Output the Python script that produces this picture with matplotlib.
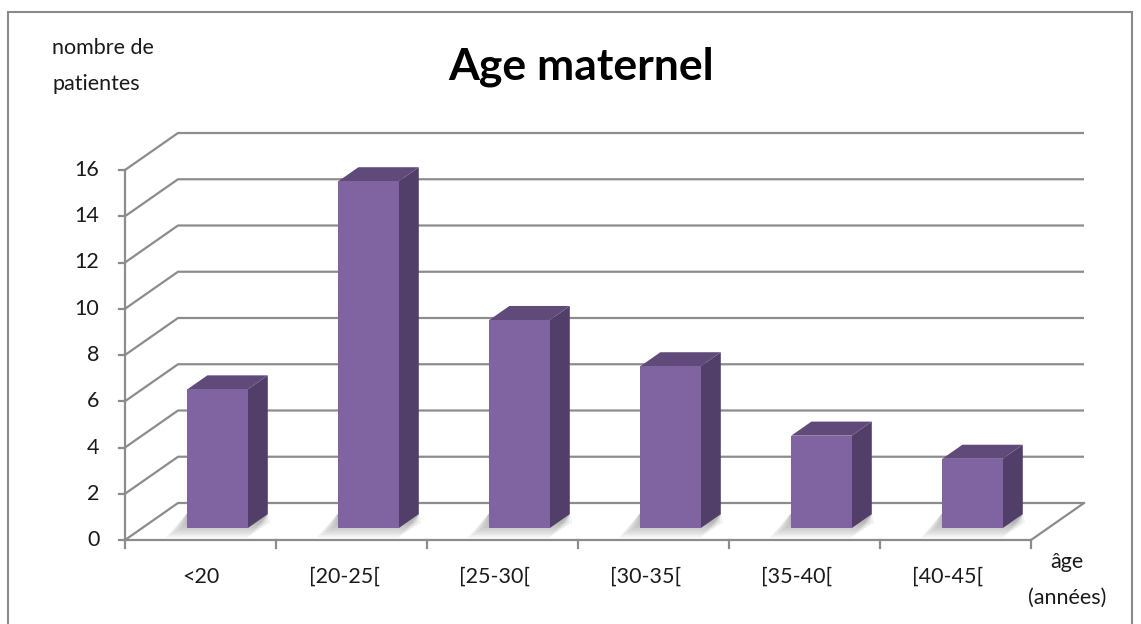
import numpy as np
import matplotlib.pyplot as plt
from matplotlib.patches import Polygon, Rectangle

categories = ['<20', '[20-25[', '[25-30[', '[30-35[', '[35-40[', '[40-45[']
patientes = [6, 15, 9, 7, 4, 3]
yticks = [0, 2, 4, 6, 8, 10, 12, 14, 16]

W, H = 1141, 624
plt.rcParams['font.family'] = ['Lato', 'DejaVu Sans']

fig = plt.figure(figsize=(W / 100, H / 100), dpi=100)
fig.patch.set_facecolor('white')

# front plane of the pseudo-3D box, in pixels
x0, x1, yb, yt = 125, 1031, 540, 170
ax = fig.add_axes([x0 / W, 1 - yb / H, (x1 - x0) / W, (yb - yt) / H])
ax.set_xlim(0, len(categories))
ax.set_ylim(0, 16)
ax.axis('off')

# depth offset in data units (53 px right, 37 px up)
dx = 53 / ((x1 - x0) / len(categories))
dy = 37 / ((yb - yt) / 16)
grid_c = '#8c8c8c'
txt_c = '#1a1a1a'
n = len(categories)

for v in yticks:
    ax.plot([0, dx, n + dx], [v, v + dy, v + dy], color=grid_c, lw=1.6,
            clip_on=False, solid_capstyle='butt', zorder=1)
# floor
ax.plot([0, n, n + dx], [0, 0, dy], color=grid_c, lw=1.6, clip_on=False, zorder=1)
# front y axis + ticks
ax.plot([0, 0], [0, 16], color=grid_c, lw=1.6, clip_on=False, zorder=1)
for v in yticks:
    ax.plot([-0.04, 0], [v, v], color=grid_c, lw=1.6, clip_on=False)
    ax.text(-0.17, v, str(v), ha='right', va='center', fontsize=15.5, color=txt_c)
for i in range(n + 1):
    ax.plot([i, i], [0, -0.35], color=grid_c, lw=1.6, clip_on=False)
for i, c in enumerate(categories):
    shift = -0.05 if c.startswith('[') else 0
    ax.text(i + 0.5 + shift, -1.6, c, ha='center', va='center', fontsize=15.5,
            color=txt_c)

# bars
f0, f1 = 0.32, 0.70
hw = 0.2
front_c, side_c, top_c = '#8064a2', '#523f69', '#5f4a7a'
for i, v in enumerate(patientes):
    cx = i + 0.5
    xa, xb = cx - hw + f0 * dx, cx + hw + f0 * dx
    ya = f0 * dy
    ddx, ddy = (f1 - f0) * dx, (f1 - f0) * dy
    # soft shadow on the floor
    for k in range(7):
        s = 0.025 * k
        shadow = Polygon([(xa - 0.14 + s, ya - 0.4 + s * 4), (xb + s, ya - 0.4 + s * 4),
                          (xb + ddx, ya + ddy), (xa + ddx - 0.14, ya + ddy)],
                         closed=True, facecolor='#6f6f6f', edgecolor='none',
                         alpha=0.09, clip_on=False, zorder=2)
        ax.add_patch(shadow)
    ax.add_patch(Rectangle((xa, ya), xb - xa, v, facecolor=front_c,
                           edgecolor='none', clip_on=False, zorder=4))
    ax.add_patch(Polygon([(xb, ya), (xb + ddx, ya + ddy), (xb + ddx, ya + ddy + v),
                          (xb, ya + v)], closed=True, facecolor=side_c,
                         edgecolor='none', clip_on=False, zorder=3))
    ax.add_patch(Polygon([(xa, ya + v), (xb, ya + v), (xb + ddx, ya + v + ddy),
                          (xa + ddx, ya + v + ddy)], closed=True, facecolor=top_c,
                         edgecolor='none', clip_on=False, zorder=3))

# titles and axis captions
fig.text(581 / W, 1 - 67 / H, 'Age maternel', ha='center', va='center',
         fontsize=32, fontweight='bold', color='black')
fig.text(52 / W, 1 - 66 / H, 'nombre de\npatientes', ha='left', va='center',
         fontsize=15.5, color=txt_c, linespacing=1.95)
fig.text(1067 / W, 1 - 580 / H, 'âge\n(années)', ha='center', va='center',
         fontsize=15.5, color=txt_c, linespacing=1.95)

# chart frame
fig.add_artist(Rectangle((8 / W, -0.05), (W - 9) / W - 8 / W, 1 - 12 / H + 0.05,
                         transform=fig.transFigure, facecolor='none',
                         edgecolor='#8a8a8a', lw=1.5))

plt.savefig('out.png', dpi=100)
